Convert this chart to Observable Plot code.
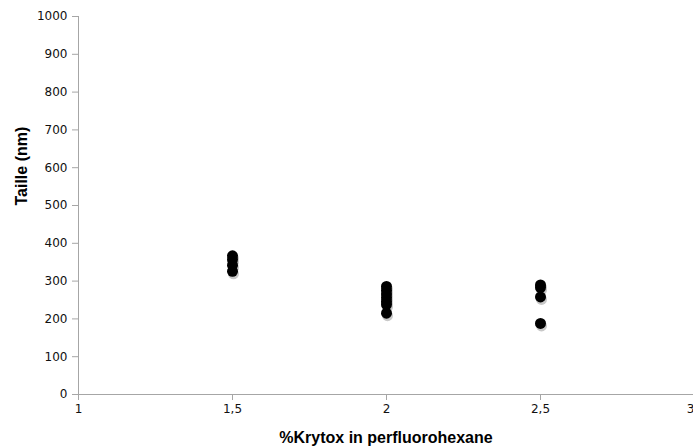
<!DOCTYPE html>
<html>
<head>
<meta charset="utf-8">
<script src="https://cdn.jsdelivr.net/npm/d3@7"></script>
<script src="https://cdn.jsdelivr.net/npm/@observablehq/plot@0.6"></script>
<style>
html,body{margin:0;padding:0;background:#fff;overflow:hidden;}
</style>
</head>
<body>
<div id="chart"></div>
<script>
const krytox = [1.5, 1.5, 1.5, 1.5, 2, 2, 2, 2, 2, 2, 2, 2.5, 2.5, 2.5, 2.5];
const taille = [367, 357, 342, 326, 286, 276, 266, 256, 246, 238, 215, 290, 283, 258, 188];
const xTicks = [1, 1.5, 2, 2.5, 3];
const yTicks = [0, 100, 200, 300, 400, 500, 600, 700, 800, 900, 1000];
const xTitle = "%Krytox in perfluorohexane";
const yTitle = "Taille (nm)";

const data = krytox.map((k, i) => ({k, t: taille[i]}));
const fmt = d => String(d).replace(".", ",");
const lastX = xTicks[xTicks.length - 1];

const chart = Plot.plot({
  width: 693,
  height: 446,
  marginLeft: 78,
  marginRight: 0,
  marginTop: 16,
  marginBottom: 52,
  style: {background: "#fff", fontFamily: "DejaVu Sans, Verdana, sans-serif", overflow: "hidden"},
  x: {domain: [1, 3], range: [78, 694]},
  y: {domain: [0, 1000]},
  marks: [
    Plot.ruleY([0], {stroke: "#a6a6a6", strokeWidth: 1}),
    Plot.ruleX([1], {stroke: "#a6a6a6", strokeWidth: 1}),
    Plot.axisY({ticks: yTicks, tickSize: 6, stroke: "#a6a6a6", tickPadding: 5, fontSize: 12, fill: "#111", tickFormat: d => String(d), label: null}),
    Plot.axisX({ticks: xTicks, tickSize: 6, stroke: "#a6a6a6", tickPadding: 4, fontSize: 12, fill: "#111", tickFormat: fmt, label: null, text: null}),
    Plot.axisX({ticks: xTicks.slice(0, -1), tickSize: 0, tickPadding: 10, fontSize: 12, fill: "#111", tickFormat: fmt, label: null}),
    Plot.axisX({ticks: [lastX], tickSize: 0, tickPadding: 10, fontSize: 12, fill: "#111", tickFormat: fmt, label: null, textAnchor: "end", dx: 0}),
    Plot.dot(data, {x: "k", y: "t", r: 5.5, fill: "#c8c8c8", stroke: "none", dx: 1, dy: 2.5}),
    Plot.dot(data, {x: "k", y: "t", r: 5.5, fill: "#000", stroke: "none"}),
    Plot.text([yTitle], {frameAnchor: "left", rotate: -90, dx: -57, fontSize: 16, fontWeight: "bold", fontFamily: "Liberation Sans, Arial, sans-serif", fill: "#000"}),
    Plot.text([xTitle], {frameAnchor: "bottom", lineAnchor: "middle", dy: 43, fontSize: 16, fontWeight: "bold", fontFamily: "Liberation Sans, Arial, sans-serif", fill: "#000"})
  ]
});
document.getElementById("chart").appendChild(chart);
</script>
</body>
</html>
